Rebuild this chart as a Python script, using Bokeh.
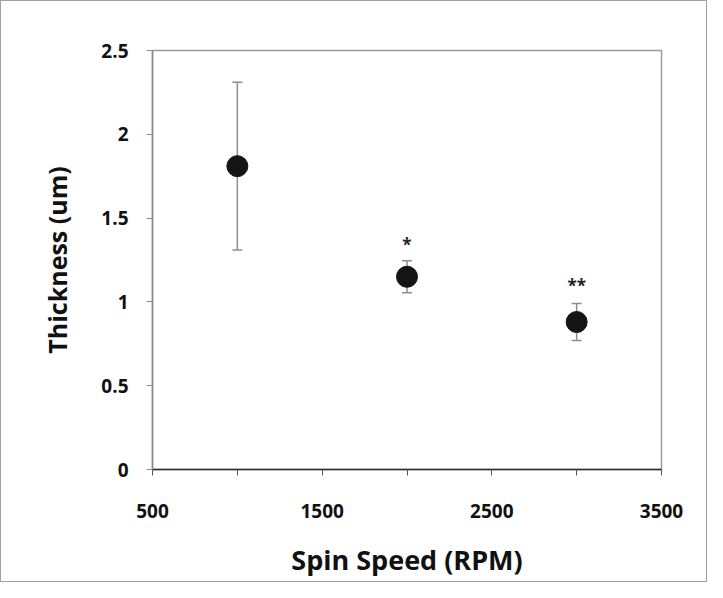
from bokeh.plotting import figure
from bokeh.models import ColumnDataSource, Whisker, FixedTicker, Range1d
from bokeh.core.properties import value
from bokeh.embed import file_html
from bokeh.resources import INLINE

# data
spin_speed = [1000, 2000, 3000]
thickness = [1.81, 1.15, 0.88]
thickness_err = [0.50, 0.095, 0.11]

sig_speed = [2000, 3000]
sig_labels = ["*", "**"]
sig_y = [1.34, 1.10]

x_ticks = [500, 1500, 2500, 3500]
x_minor = [1000, 2000, 3000]
y_ticks = [0, 0.5, 1, 1.5, 2, 2.5]
y_tick_labels = ["0", "0.5", "1", "1.5", "2", "2.5"]

FONT = "Open Sans"
TXT = "#111111"

src = ColumnDataSource(dict(
    x=spin_speed, y=thickness,
    lo=[t - e for t, e in zip(thickness, thickness_err)],
    hi=[t + e for t, e in zip(thickness, thickness_err)],
))

p = figure(width=707, height=582, output_backend="svg", toolbar_location=None,
           x_range=Range1d(500, 3500), y_range=Range1d(0, 2.5),
           min_border_left=151, min_border_right=47, min_border_top=49,
           min_border_bottom=114,
           styles={"border": "1px solid #a0a0a0", "box-sizing": "border-box"})

p.background_fill_color = "white"
p.border_fill_color = "white"
p.outline_line_color = "#9a9a9a"
p.outline_line_width = 1.5
p.xgrid.visible = False
p.ygrid.visible = False

w = Whisker(base="x", lower="lo", upper="hi", source=src,
            line_color="#8f8f8f", line_width=1.5)
w.upper_head.size = 10
w.lower_head.size = 10
w.upper_head.line_color = "#8f8f8f"
w.lower_head.line_color = "#8f8f8f"
w.upper_head.line_width = 1.5
w.lower_head.line_width = 1.5
p.add_layout(w)

p.scatter("x", "y", source=src, size=21, color="#151515")

p.text(x=sig_speed, y=sig_y, text=sig_labels, text_align="center",
       text_baseline="middle", text_font=value(FONT), text_font_style="bold",
       text_font_size="17px", text_color="#222222")

# x axis
p.xaxis.ticker = FixedTicker(ticks=x_ticks, minor_ticks=x_minor)
p.xaxis.axis_line_color = "#2a2a3a"
p.xaxis.axis_line_width = 1.5
p.xaxis.major_tick_line_color = "#555555"
p.xaxis.minor_tick_line_color = "#555555"
p.xaxis.major_tick_in = 0
p.xaxis.major_tick_out = 6
p.xaxis.minor_tick_in = 0
p.xaxis.minor_tick_out = 6
p.xaxis.major_label_standoff = 28
p.xaxis.major_label_text_font = FONT
p.xaxis.major_label_text_font_style = "bold"
p.xaxis.major_label_text_font_size = "19px"
p.xaxis.major_label_text_color = TXT
p.xaxis.axis_label = "Spin Speed (RPM)"
p.xaxis.axis_label_text_font = FONT
p.xaxis.axis_label_text_font_style = "bold"
p.xaxis.axis_label_text_font_size = "27px"
p.xaxis.axis_label_text_color = TXT
p.xaxis.axis_label_standoff = 20

# y axis
p.yaxis.ticker = FixedTicker(ticks=y_ticks, minor_ticks=[])
p.yaxis.major_label_overrides = {t: l for t, l in zip(y_ticks, y_tick_labels)}
p.yaxis.axis_line_color = "#8a8a8a"
p.yaxis.axis_line_width = 1.5
p.yaxis.major_tick_line_color = "#8a8a8a"
p.yaxis.major_tick_in = 0
p.yaxis.major_tick_out = 6
p.yaxis.minor_tick_line_color = None
p.yaxis.major_label_standoff = 18
p.yaxis.major_label_text_font = FONT
p.yaxis.major_label_text_font_style = "bold"
p.yaxis.major_label_text_font_size = "19px"
p.yaxis.major_label_text_color = TXT
p.yaxis.axis_label = "Thickness (um)"
p.yaxis.axis_label_text_font = FONT
p.yaxis.axis_label_text_font_style = "bold"
p.yaxis.axis_label_text_font_size = "25px"
p.yaxis.axis_label_text_color = TXT
p.yaxis.axis_label_standoff = 24

open("out.html", "w").write(file_html(p, INLINE))
